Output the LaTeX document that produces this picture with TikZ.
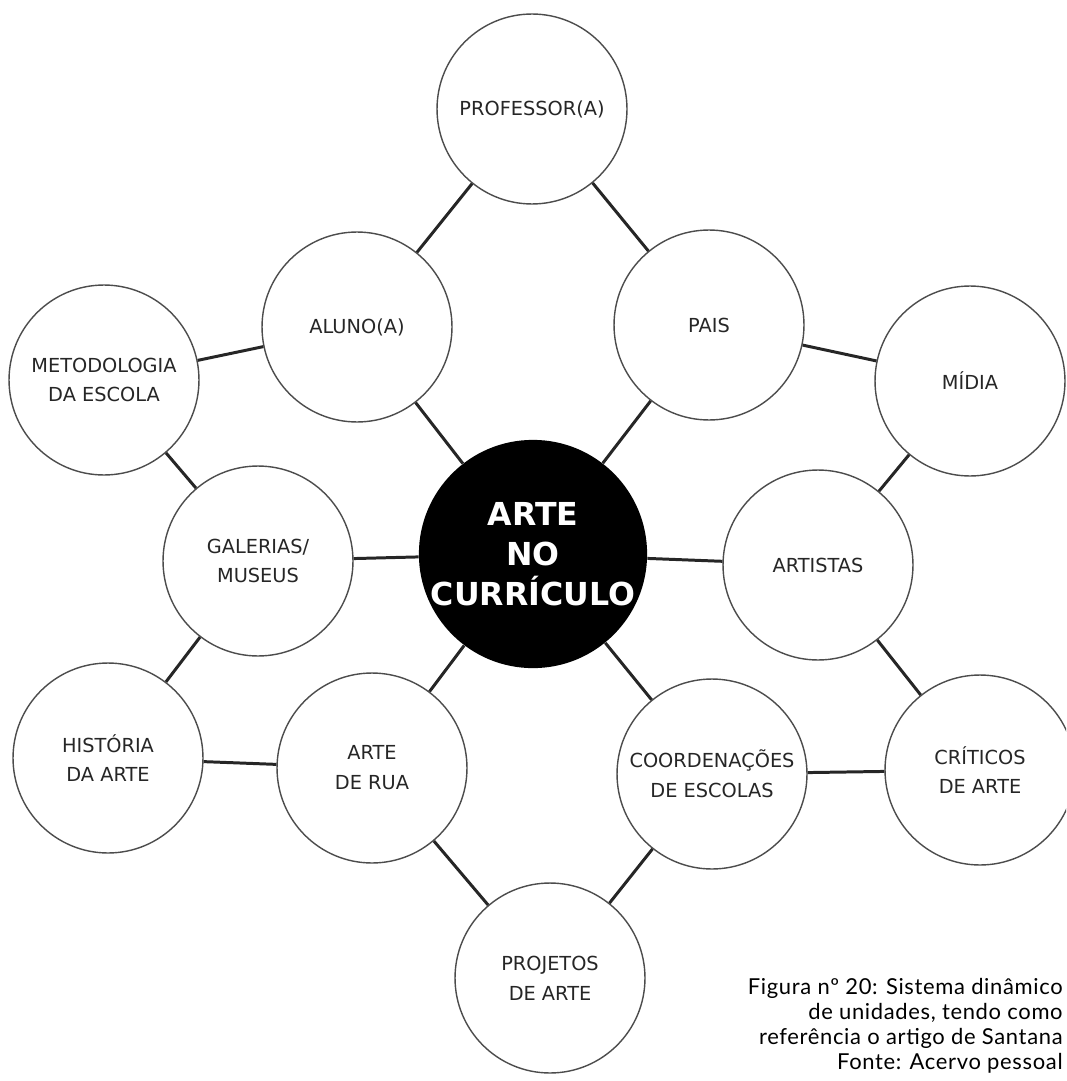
\documentclass[tikz,border=0pt]{standalone}
\usepackage{fontspec}
\setmainfont{DejaVu Sans}
\newfontfamily\legenda[LetterSpace=3]{Lato}
\usepackage{tikz}

\tikzset{
	unidade/.style={circle,draw=black!70,line width=0.8pt,fill=white,minimum size=3.8cm,inner sep=0pt,align=center,text=black!85,font=\fontsize{11}{17}\selectfont},
	nucleo/.style={circle,fill=black,minimum size=4.52cm,inner sep=0pt,align=center,text=white,font=\bfseries\fontsize{18}{22.8}\selectfont},
	ligacao/.style={draw=black!85,line width=1.7pt},
	rodape/.style={inner sep=0pt,align=right,font=\legenda\fontsize{12.5}{14.3}\selectfont},
}

\begin{document}
\begin{tikzpicture}[x=0.02cm,y=-0.02cm]
		% moldura
		\useasboundingbox (0,0) rectangle (1066,1081);
		\clip (0,0) rectangle (1066,1081);
		% centro
		\node[nucleo] (arte) at (533,554) {ARTE\\NO\\CURRÍCULO};
		% unidades
		\node[unidade] (prof) at (532,109) {PROFESSOR(A)};
		\node[unidade] (aluno) at (357,327) {ALUNO(A)};
		\node[unidade] (pais) at (709,325) {PAIS};
		\node[unidade] (metod) at (104,380) {METODOLOGIA\\DA ESCOLA};
		\node[unidade] (midia) at (970,381) {MÍDIA};
		\node[unidade] (galerias) at (258,561) {GALERIAS/\\MUSEUS};
		\node[unidade] (artistas) at (818,565) {ARTISTAS};
		\node[unidade] (historia) at (108,758) {HISTÓRIA\\DA ARTE};
		\node[unidade] (rua) at (372,768) {ARTE\\DE RUA};
		\node[unidade] (coord) at (712,774) {COORDENAÇÕES\\DE ESCOLAS};
		\node[unidade] (criticos) at (980,770) {CRÍTICOS\\DE ARTE};
		\node[unidade] (projetos) at (550,978) {PROJETOS\\DE ARTE};
		% ligacoes
		\foreach \a/\b in {prof/aluno,prof/pais,aluno/metod,aluno/arte,pais/arte,pais/midia,
			metod/galerias,galerias/arte,galerias/historia,midia/artistas,artistas/arte,
			artistas/criticos,arte/rua,arte/coord,historia/rua,coord/criticos,rua/projetos,coord/projetos}
			\draw[ligacao] (\a) -- (\b);
		% legenda
		\node[rodape,anchor=north east] (fig) at (1063,978)
		{Figura nº 20: Sistema dinâmico\\de unidades, tendo como\\referência o artigo de Santana\\Fonte: Acervo pessoal};
	\end{tikzpicture}
\end{document}
